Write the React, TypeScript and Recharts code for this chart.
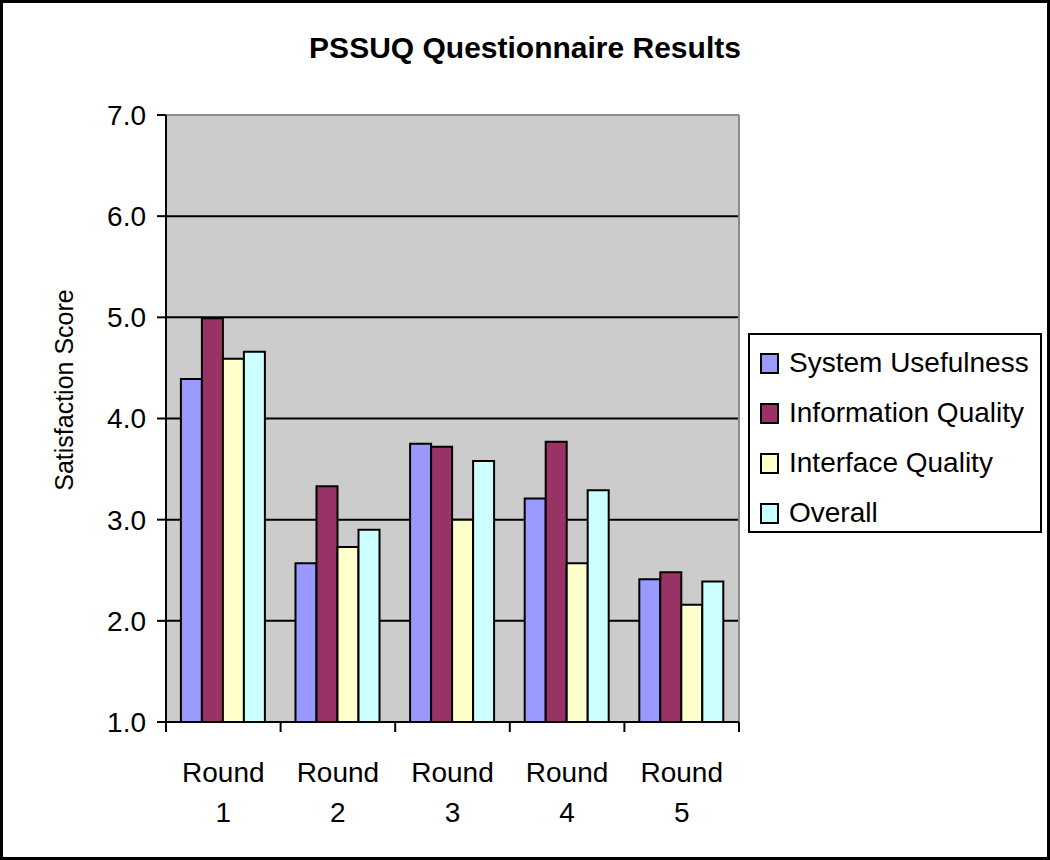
import { BarChart, Bar, XAxis, YAxis, CartesianGrid, Legend, ReferenceLine } from 'recharts';

const rounds = ['Round 1', 'Round 2', 'Round 3', 'Round 4', 'Round 5'];
const systemUsefulness = [4.39, 2.57, 3.75, 3.21, 2.41];
const informationQuality = [4.99, 3.33, 3.72, 3.77, 2.48];
const interfaceQuality = [4.59, 2.73, 3.0, 2.57, 2.16];
const overall = [4.66, 2.9, 3.58, 3.29, 2.39];
const seriesNames = ['System Usefulness', 'Information Quality', 'Interface Quality', 'Overall'];
const yTicks = [1, 2, 3, 4, 5, 6, 7];

const data = rounds.map((r, i) => ({
  round: r,
  su: systemUsefulness[i],
  iq: informationQuality[i],
  ifq: interfaceQuality[i],
  ov: overall[i],
}));

const FONT = '"Liberation Sans", Arial, sans-serif';
const BAND = 573 / rounds.length;

function RoundTick({ x, y, payload, index }: any) {
  const [a, b] = String(payload.value).split(' ');
  return (
    <g>
      <line x1={x - BAND / 2} x2={x - BAND / 2} y1={y} y2={y + 10} stroke="#000" strokeWidth={2} />
      {index === rounds.length - 1 && (
        <line x1={x + BAND / 2} x2={x + BAND / 2} y1={y} y2={y + 10} stroke="#000" strokeWidth={2} />
      )}
      <text textAnchor="middle" fontSize={28} fontFamily={FONT} fill="#000">
        <tspan x={x} y={y + 60}>{a}</tspan>
        <tspan x={x} y={y + 100}>{b}</tspan>
      </text>
    </g>
  );
}

function LegendBox({ payload }: any) {
  const items = [...(payload || [])].sort((a: any, b: any) => seriesNames.indexOf(a.value) - seriesNames.indexOf(b.value));
  return (
    <div style={{ border: '2px solid #000', background: '#fff', boxSizing: 'border-box', width: 294, height: 200, padding: '3px 0 0 10px', fontFamily: FONT }}>
      {items.map((p: any) => (
        <div key={p.value} style={{ display: 'flex', alignItems: 'center', height: 50, fontSize: 28, color: '#000', whiteSpace: 'nowrap' }}>
          <span style={{ display: 'inline-block', width: 15, height: 17, background: p.color, border: '2px solid #000', marginRight: 10 }} />
          {p.value}
        </div>
      ))}
    </div>
  );
}

export default function App() {
  return (
    <div style={{ position: 'absolute', left: 0, top: 0, width: 1050, height: 860, background: '#fff', border: '3px solid #000', boxSizing: 'border-box', overflow: 'hidden' }}>
      <div style={{ position: 'absolute', left: -3, top: -3 }}>
        <BarChart width={1050} height={860} data={data} margin={{ top: 115, right: 311, bottom: 0, left: 0 }} barCategoryGap="13%" barGap={0}>
          <text x={525} y={58} textAnchor="middle" fontSize={30} fontWeight="bold" fontFamily={FONT} fill="#000">
            PSSUQ Questionnaire Results
          </text>
          <CartesianGrid
            fill="#cccccc"
            stroke="#000"
            strokeWidth={2}
            vertical={(p: any) => <line key="r" x1={p.x1} x2={p.x2} y1={p.y1} y2={p.y2} stroke="#8c8c8c" strokeWidth={2} />}
            verticalCoordinatesGenerator={({ offset }: any) => [offset.left + offset.width]}
          />
          <ReferenceLine y={7} stroke="#8c8c8c" strokeWidth={2} />
          <XAxis dataKey="round" height={138} tickLine={false} tickSize={0} tickMargin={0} axisLine={{ stroke: '#000', strokeWidth: 2 }} tick={<RoundTick />} interval={0} />
          <YAxis
            type="number"
            domain={[1, 7]}
            ticks={yTicks}
            width={166}
            tickSize={9}
            tickMargin={11}
            tickFormatter={(v: number) => v.toFixed(1)}
            tick={{ fill: '#000', fontSize: 28, fontFamily: FONT }}
            tickLine={{ stroke: '#000', strokeWidth: 2 }}
            axisLine={{ stroke: '#000', strokeWidth: 2 }}
            label={{
              content: () => (
                <text x={73} y={390} transform="rotate(-90 73 390)" textAnchor="middle" fontSize={25} fontFamily={FONT} fill="#000">
                  Satisfaction Score
                </text>
              ),
            }}
          />
          <Legend layout="vertical" align="center" verticalAlign="middle" wrapperStyle={{ left: 748, top: 333, width: 294, height: 200 }} content={<LegendBox />} />
          <Bar dataKey="su" name={seriesNames[0]} fill="#9999ff" stroke="#000" strokeWidth={2} isAnimationActive={false} />
          <Bar dataKey="iq" name={seriesNames[1]} fill="#993366" stroke="#000" strokeWidth={2} isAnimationActive={false} />
          <Bar dataKey="ifq" name={seriesNames[2]} fill="#ffffcc" stroke="#000" strokeWidth={2} isAnimationActive={false} />
          <Bar dataKey="ov" name={seriesNames[3]} fill="#ccffff" stroke="#000" strokeWidth={2} isAnimationActive={false} />
        </BarChart>
      </div>
    </div>
  );
}
